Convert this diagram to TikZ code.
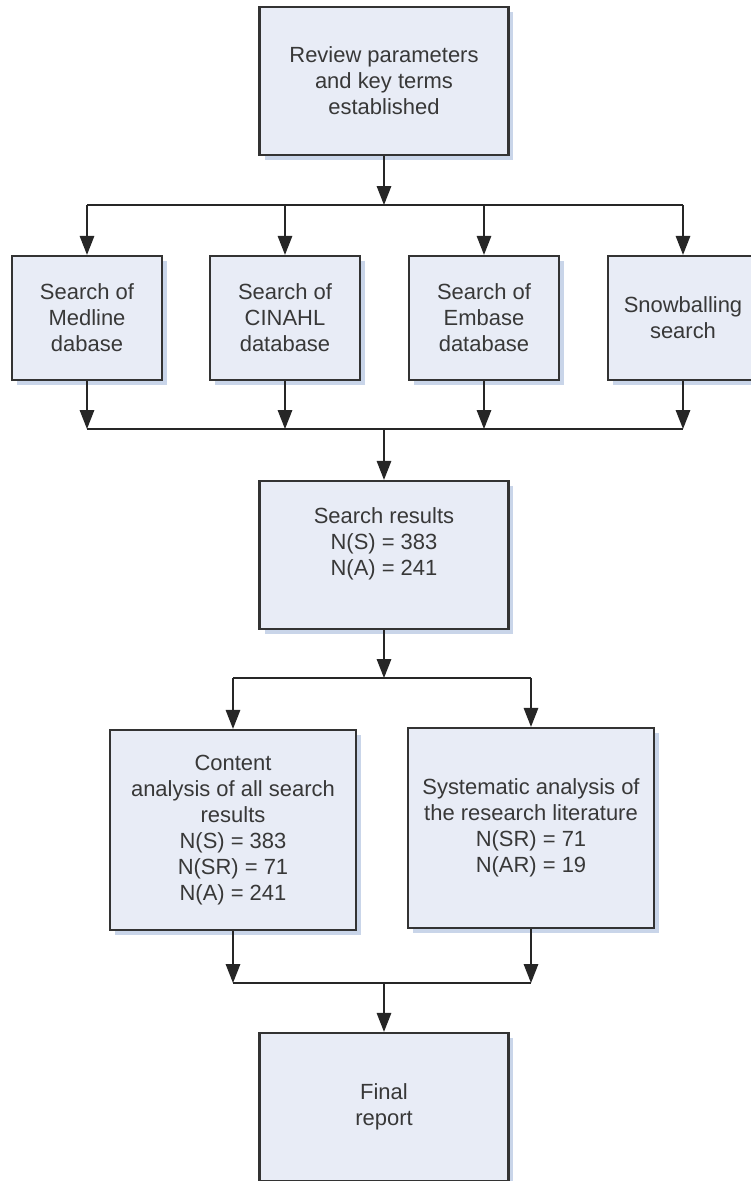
\documentclass[tikz,border=0pt]{standalone}
\usepackage{fontspec}
\setmainfont{Liberation Sans}
\usetikzlibrary{arrows.meta,shadows}
\definecolor{boxfill}{HTML}{E8ECF6}
\definecolor{boxshade}{HTML}{C9D5E9}
\definecolor{boxline}{HTML}{333333}
\tikzset{procbox/.style={draw=boxline,line width=1.3pt,fill=boxfill,align=center,text=black!78,inner sep=2pt,font=\fontsize{12.5}{14.8}\selectfont,drop shadow={shadow xshift=0.1cm,shadow yshift=-0.1cm,fill=boxshade,opacity=1}}}
\tikzset{srcbox/.style={procbox,minimum width=3cm,minimum height=2.48cm}}
\tikzset{wide/.style={procbox,minimum width=4.98cm,minimum height=2.96cm}}
\tikzset{tall/.style={procbox,minimum width=4.92cm,minimum height=4cm}}
\tikzset{link/.style={line width=0.9pt,draw=black!85}}
\tikzset{arr/.style={link,-{Triangle[length=0.38cm,width=0.29cm]}}}

\begin{document}
\begin{tikzpicture}[x=0.02cm,y=-0.02cm]
  \useasboundingbox (0,0) rectangle (751,1181);

  \node[wide] (review) at (384,81) {Review parameters\\and key terms\\established};

  \node[srcbox] (medline) at (87,318) {Search of\\Medline\\dabase};
  \node[srcbox] (cinahl) at (285,318) {Search of\\CINAHL\\database};
  \node[srcbox] (embase) at (484,318) {Search of\\Embase\\database};
  \node[srcbox] (snow) at (683,318) {Snowballing\\search};

  \node[wide] (results) at (384,555) {Search results\\N(S) = 383\\N(A) = 241\\~};

  \node[tall] (content) at (233,830) {Content\\analysis of all search\\results\\N(S) = 383\\N(SR) = 71\\N(A) = 241};
  \node[tall] (system) at (531,828) {Systematic analysis of\\the research literature\\N(SR) = 71\\N(AR) = 19};

  \node[wide] (final) at (384,1107) {Final\\report};

  % junctions
  \coordinate (split1) at (384,205);
  \coordinate (join1) at (384,429);
  \coordinate (split2) at (384,678);
  \coordinate (join2) at (384,983);

  \draw[arr] (review) -- (split1);
  \draw[link] (medline |- split1) -- (snow |- split1);
        \foreach \n in {medline,cinahl,embase,snow}
          \draw[arr] (\n |- split1) -- (\n);
        \foreach \n in {medline,cinahl,embase,snow}
          \draw[arr] (\n) -- (\n |- join1);
  \draw[link] (medline |- join1) -- (snow |- join1);
  \draw[arr] (join1) -- (results);

  \draw[arr] (results) -- (split2);
  \draw[link] (content |- split2) -- (system |- split2);
  \draw[arr] (content |- split2) -- (content);
  \draw[arr] (system |- split2) -- (system);

  \draw[arr] (content) -- (content |- join2);
  \draw[arr] (system) -- (system |- join2);
  \draw[link] (content |- join2) -- (system |- join2);
  \draw[arr] (join2) -- (final);
\end{tikzpicture}
\end{document}
